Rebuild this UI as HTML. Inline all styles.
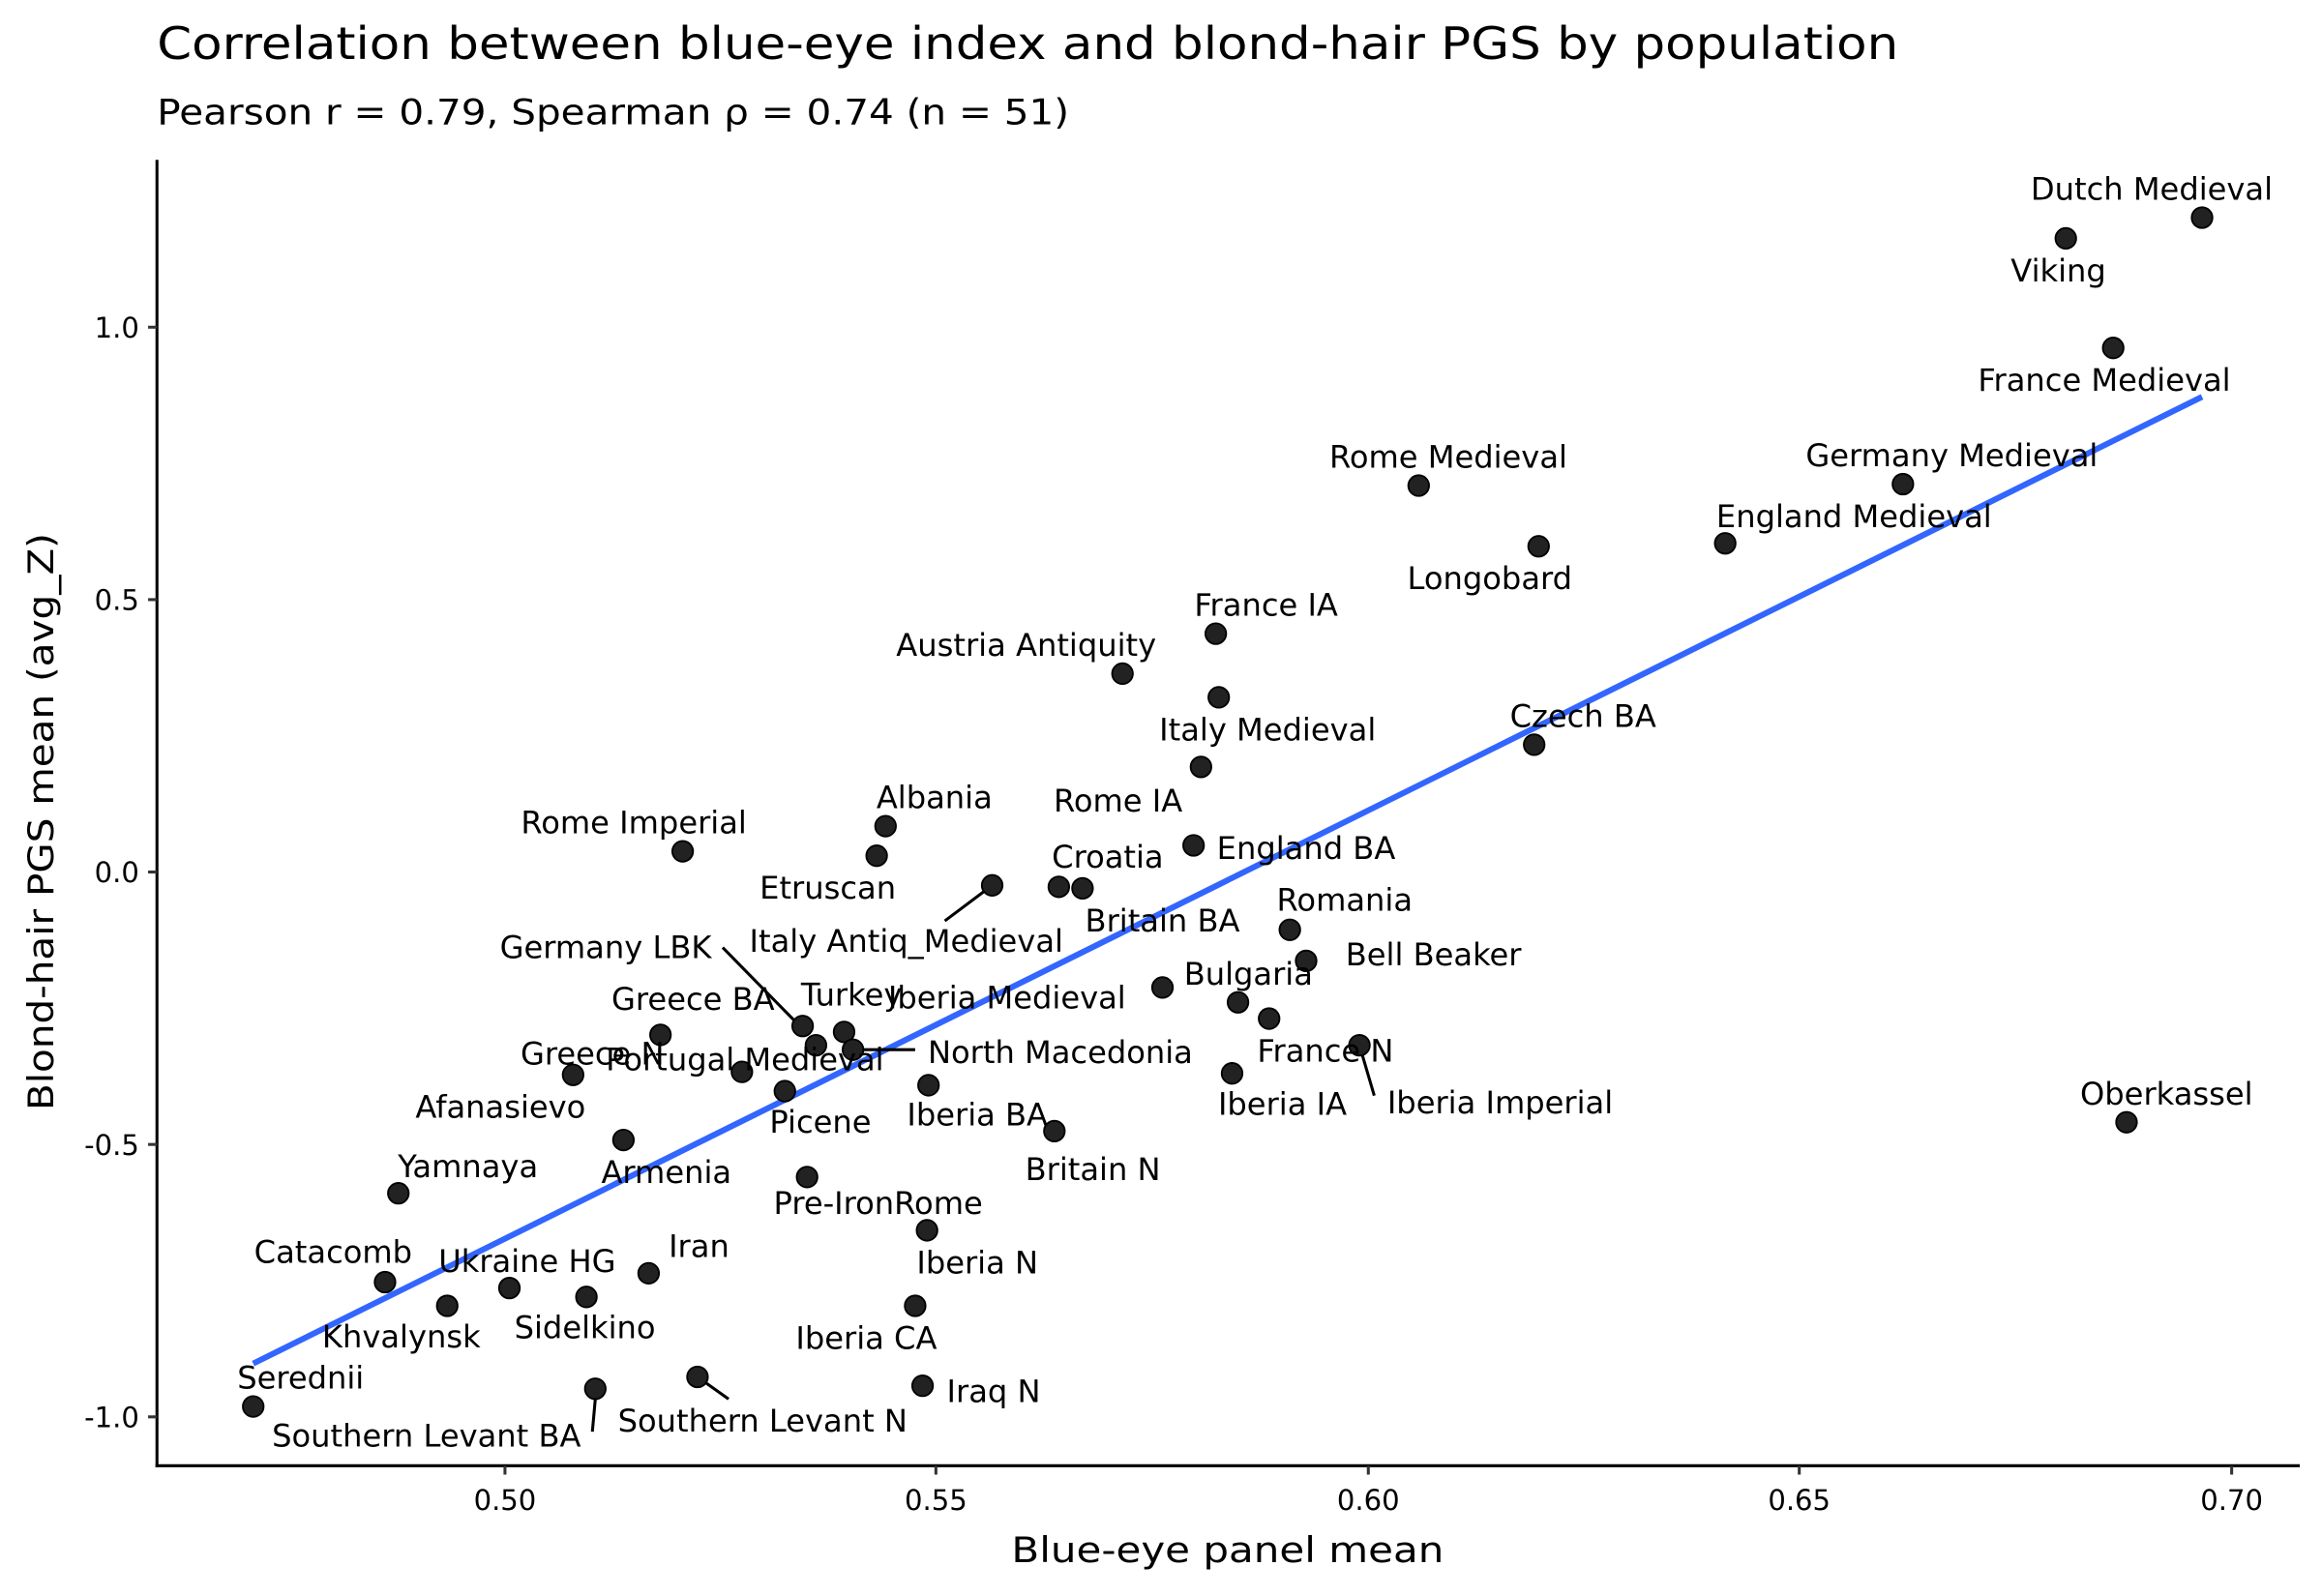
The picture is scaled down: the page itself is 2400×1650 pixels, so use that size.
<!DOCTYPE html>
<html><head><meta charset="utf-8"><style>
html,body{margin:0;padding:0;background:#fff}
svg{display:block}
text{font-family:"DejaVu Sans","Liberation Sans",sans-serif;fill:#000}
.l{font-size:21px;text-anchor:middle}
.t{font-size:19px;fill:#4d4d4d}
</style></head><body>
<svg width="2400" height="1650" viewBox="0 0 1568 1078" xmlns="http://www.w3.org/2000/svg">
<rect width="1568" height="1078" fill="#fff"/>
<text x="106" y="40" style="font-size:30px" textLength="1176" lengthAdjust="spacingAndGlyphs">Correlation between blue-eye index and blond-hair PGS by population</text>
<text x="106" y="84" style="font-size:24px" textLength="616" lengthAdjust="spacingAndGlyphs">Pearson r = 0.79, Spearman ρ = 0.74 (n = 51)</text>
<line x1="106" y1="108" x2="106" y2="991" stroke="#000" stroke-width="2"/>
<line x1="105" y1="990" x2="1553" y2="990" stroke="#000" stroke-width="2"/>
<g stroke="#333" stroke-width="2">
<line x1="100" y1="221" x2="106" y2="221"/><line x1="100" y1="405" x2="106" y2="405"/><line x1="100" y1="589" x2="106" y2="589"/><line x1="100" y1="773" x2="106" y2="773"/><line x1="100" y1="957" x2="106" y2="957"/>
<line x1="341" y1="990" x2="341" y2="996"/><line x1="632" y1="990" x2="632" y2="996"/><line x1="924" y1="990" x2="924" y2="996"/><line x1="1215" y1="990" x2="1215" y2="996"/><line x1="1507" y1="990" x2="1507" y2="996"/>
</g>
<g class="t" text-anchor="end">
<text x="94" y="228">1.0</text><text x="94" y="412">0.5</text><text x="94" y="596">0.0</text><text x="94" y="780">-0.5</text><text x="94" y="964">-1.0</text>
</g>
<g class="t" text-anchor="middle">
<text x="341" y="1020">0.50</text><text x="632" y="1020">0.55</text><text x="924" y="1020">0.60</text><text x="1215" y="1020">0.65</text><text x="1507" y="1020">0.70</text>
</g>
<text x="829" y="1055" text-anchor="middle" style="font-size:24px" textLength="292" lengthAdjust="spacingAndGlyphs">Blue-eye panel mean</text>
<text transform="translate(36,555) rotate(-90)" text-anchor="middle" style="font-size:24px" textLength="390" lengthAdjust="spacingAndGlyphs">Blond-hair PGS mean (avg_Z)</text>
<line x1="171" y1="921" x2="1487" y2="268" stroke="#3366FF" stroke-width="4"/>
<g stroke="#000" stroke-width="2">
<line x1="670" y1="598" x2="638" y2="622"/><line x1="488" y1="640" x2="540" y2="693"/><line x1="578" y1="709" x2="618" y2="709"/><line x1="918" y1="706" x2="928" y2="740"/><line x1="402" y1="945" x2="400" y2="967"/><line x1="471" y1="930" x2="492" y2="945"/>
</g>
<g fill="#222" stroke="#000" stroke-width="1.2">
<circle cx="1487" cy="147" r="7"/><circle cx="1395" cy="161" r="7"/><circle cx="1427" cy="235" r="7"/><circle cx="1285" cy="327" r="7"/><circle cx="1165" cy="367" r="7"/><circle cx="958" cy="328" r="7"/><circle cx="1039" cy="369" r="7"/><circle cx="821" cy="428" r="7"/><circle cx="758" cy="455" r="7"/><circle cx="823" cy="471" r="7"/><circle cx="811" cy="518" r="7"/><circle cx="1036" cy="503" r="7"/><circle cx="806" cy="571" r="7"/><circle cx="598" cy="558" r="7"/><circle cx="461" cy="575" r="7"/><circle cx="592" cy="578" r="7"/><circle cx="715" cy="599" r="7"/><circle cx="731" cy="600" r="7"/><circle cx="670" cy="598" r="7"/><circle cx="871" cy="628" r="7"/><circle cx="882" cy="649" r="7"/><circle cx="836" cy="677" r="7"/><circle cx="785" cy="667" r="7"/><circle cx="857" cy="688" r="7"/><circle cx="570" cy="697" r="7"/><circle cx="446" cy="699" r="7"/><circle cx="542" cy="693" r="7"/><circle cx="551" cy="706" r="7"/><circle cx="576" cy="709" r="7"/><circle cx="918" cy="706" r="7"/><circle cx="832" cy="725" r="7"/><circle cx="387" cy="726" r="7"/><circle cx="501" cy="724" r="7"/><circle cx="530" cy="737" r="7"/><circle cx="627" cy="733" r="7"/><circle cx="712" cy="764" r="7"/><circle cx="1436" cy="758" r="7"/><circle cx="421" cy="770" r="7"/><circle cx="545" cy="795" r="7"/><circle cx="269" cy="806" r="7"/><circle cx="626" cy="831" r="7"/><circle cx="438" cy="860" r="7"/><circle cx="344" cy="870" r="7"/><circle cx="260" cy="866" r="7"/><circle cx="302" cy="882" r="7"/><circle cx="396" cy="876" r="7"/><circle cx="618" cy="882" r="7"/><circle cx="171" cy="950" r="7"/><circle cx="402" cy="938" r="7"/><circle cx="471" cy="930" r="7"/><circle cx="623" cy="936" r="7"/>
</g>
<g class="l">
<text x="1453" y="135">Dutch Medieval</text><text x="1390" y="190">Viking</text><text x="1421" y="264">France Medieval</text><text x="1318" y="315">Germany Medieval</text><text x="1252" y="356">England Medieval</text><text x="978" y="316">Rome Medieval</text><text x="1006" y="398">Longobard</text><text x="855" y="416">France IA</text><text x="693" y="443">Austria Antiquity</text><text x="856" y="500">Italy Medieval</text><text x="1069" y="491">Czech BA</text><text x="755" y="548">Rome IA</text><text x="882" y="580">England BA</text><text x="631" y="546">Albania</text><text x="428" y="563">Rome Imperial</text><text x="559" y="607">Etruscan</text><text x="748" y="586">Croatia</text><text x="612" y="643">Italy Antiq_Medieval</text><text x="785" y="629">Britain BA</text><text x="908" y="615">Romania</text><text x="968" y="652">Bell Beaker</text><text x="409" y="647">Germany LBK</text><text x="843" y="665">Bulgaria</text><text x="575" y="679">Turkey</text><text x="680" y="681">Iberia Medieval</text><text x="468" y="682">Greece BA</text><text x="716" y="718">North Macedonia</text><text x="895" y="717">France N</text><text x="1013" y="752">Iberia Imperial</text><text x="866" y="753">Iberia IA</text><text x="400" y="719">Greece N</text><text x="503" y="723">Portugal Medieval</text><text x="660" y="760">Iberia BA</text><text x="738" y="797">Britain N</text><text x="1463" y="746">Oberkassel</text><text x="338" y="755">Afanasievo</text><text x="554" y="765">Picene</text><text x="450" y="799">Armenia</text><text x="316" y="795">Yamnaya</text><text x="593" y="820">Pre-IronRome</text><text x="660" y="860">Iberia N</text><text x="472" y="849">Iran</text><text x="356" y="859">Ukraine HG</text><text x="225" y="853">Catacomb</text><text x="271" y="910">Khvalynsk</text><text x="395" y="904">Sidelkino</text><text x="585" y="911">Iberia CA</text><text x="203" y="938">Serednii</text><text x="288" y="977">Southern Levant BA</text><text x="515" y="967">Southern Levant N</text><text x="671" y="947">Iraq N</text>
</g>
</svg>
</body></html>
